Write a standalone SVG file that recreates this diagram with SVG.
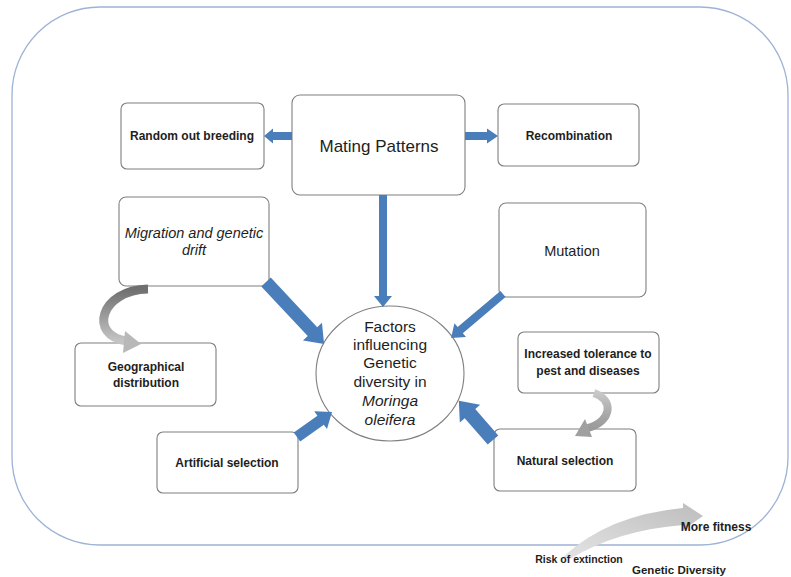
<svg xmlns="http://www.w3.org/2000/svg" width="791" height="577" viewBox="0 0 791 577">
<defs>
<style>
.box{fill:#fff;stroke:#7f7f7f;stroke-width:1.1}
.t{font-family:"Liberation Sans",Arial,sans-serif;fill:#1e1e1e;text-anchor:middle}
.b{font-weight:bold;font-size:12px}
.arr{fill:#4a7ebb}
</style>
<linearGradient id="g1" x1="0" y1="0" x2="0" y2="1">
<stop offset="0" stop-color="#6f6f6f"/><stop offset="1" stop-color="#c4c4c4"/>
</linearGradient>
<linearGradient id="g2" x1="0" y1="0" x2="0" y2="1">
<stop offset="0" stop-color="#c8c8c8"/><stop offset="0.6" stop-color="#a9a9a9"/><stop offset="1" stop-color="#9a9a9a"/>
</linearGradient>
<linearGradient id="g3" x1="0" y1="1" x2="1" y2="0">
<stop offset="0" stop-color="#e4e4e4"/><stop offset="1" stop-color="#bdbdbd"/>
</linearGradient>
</defs>
<rect width="791" height="577" fill="#fff"/>
<rect x="12" y="7" width="776" height="538" rx="88" ry="88" fill="none" stroke="#9db3d6" stroke-width="1.3"/>

<g id="node-mating"><rect class="box" x="292" y="95" width="173" height="100" rx="8"/><text class="t" x="379" y="152" font-size="17">Mating Patterns</text></g>
<g id="node-random"><rect class="box" x="121" y="103" width="143" height="66" rx="6"/><text class="t b" x="192" y="140">Random out breeding</text></g>
<g id="node-recomb"><rect class="box" x="498" y="104" width="141" height="62" rx="6"/><text class="t b" x="569" y="140">Recombination</text></g>
<g id="node-migration"><rect class="box" x="119" y="197" width="150" height="89" rx="7"/><text class="t" x="194" y="238" font-size="14.5" font-style="italic">Migration and genetic</text><text class="t" x="194" y="255" font-size="14.5" font-style="italic">drift</text></g>
<g id="node-mutation"><rect class="box" x="499" y="203" width="147" height="94" rx="7"/><text class="t" x="572" y="256" font-size="14.5">Mutation</text></g>
<g id="node-geo"><rect class="box" x="75" y="343" width="141" height="63" rx="6"/><text class="t b" x="146" y="371">Geographical</text><text class="t b" x="146" y="387">distribution</text></g>
<g id="node-center"><ellipse cx="390" cy="373.5" rx="74" ry="67.5" fill="#fff" stroke="#7f7f7f" stroke-width="1.1"/>
<g class="t" font-size="15.5" fill="#2a2a2a"><text x="390" y="332">Factors</text><text x="390" y="350">influencing</text><text x="390" y="368">Genetic</text><text x="390" y="387">diversity in</text><text x="390" y="406" font-style="italic">Moringa</text><text x="390" y="425" font-style="italic">oleifera</text></g></g>
<g id="node-tolerance"><rect class="box" x="518" y="332" width="141" height="61" rx="6"/><text class="t b" x="588" y="358">Increased tolerance to</text><text class="t b" x="588" y="375">pest and diseases</text></g>
<g id="node-artificial"><rect class="box" x="157" y="432" width="141" height="61" rx="6"/><text class="t b" x="227" y="467">Artificial selection</text></g>
<g id="node-natural"><rect class="box" x="494" y="429" width="142" height="62" rx="6"/><text class="t b" x="565" y="465">Natural selection</text></g>

<g id="connectors">
<path class="arr" transform="translate(383,195) rotate(90)" d="M0,-4 L101,-4 L101,-9 L112,0 L101,9 L101,4 L0,4Z"/>
<path class="arr" transform="translate(292,136) rotate(180)" d="M0,-4 L19,-4 L19,-7.5 L28,0 L19,7.5 L19,4 L0,4Z"/>
<path class="arr" transform="translate(465,136)" d="M0,-4 L22,-4 L22,-7.5 L33,0 L22,7.5 L22,4 L0,4Z"/>
<path class="arr" transform="translate(266,282) rotate(46.9)" d="M0,-6.5 L68,-6.5 L68,-13 L85,0 L68,13 L68,6.5 L0,6.5Z"/>
<path class="arr" transform="translate(503,294) rotate(139.8)" d="M0,-4 L56,-4 L56,-9 L68,0 L56,9 L56,4 L0,4Z"/>
<path class="arr" transform="translate(297,437) rotate(-35.5)" d="M0,-5.5 L29,-5.5 L29,-11 L43,0 L29,11 L29,5.5 L0,5.5Z"/>
<path class="arr" transform="translate(493,440) rotate(-131.1)" d="M0,-7 L35,-7 L35,-13.5 L52,0 L35,13.5 L35,7 L0,7Z"/>
<path d="M148,289 C100,290 88,336 127,341" fill="none" stroke="url(#g1)" stroke-width="9"/>
<path d="M125,331 L141,344 L123,353 Z" fill="#b8b8b8"/>
<path d="M594,393 C614,400 612,421 588,428" fill="none" stroke="url(#g2)" stroke-width="8"/>
<path d="M585,419 L575,436 L592,437 Z" fill="#a0a0a0"/>
<path d="M563,557 Q608,515 683,508 L683,503 L703,516 L683,530 L683,525 Q618,530 570,559 Z" fill="url(#g3)"/>
</g>

<text class="t b" x="716" y="531">More fitness</text>
<text class="t" x="579" y="563" font-size="10.5" font-weight="bold">Risk of extinction</text>
<text class="t" x="679" y="574" font-size="11.5" font-weight="bold">Genetic Diversity</text>
</svg>
